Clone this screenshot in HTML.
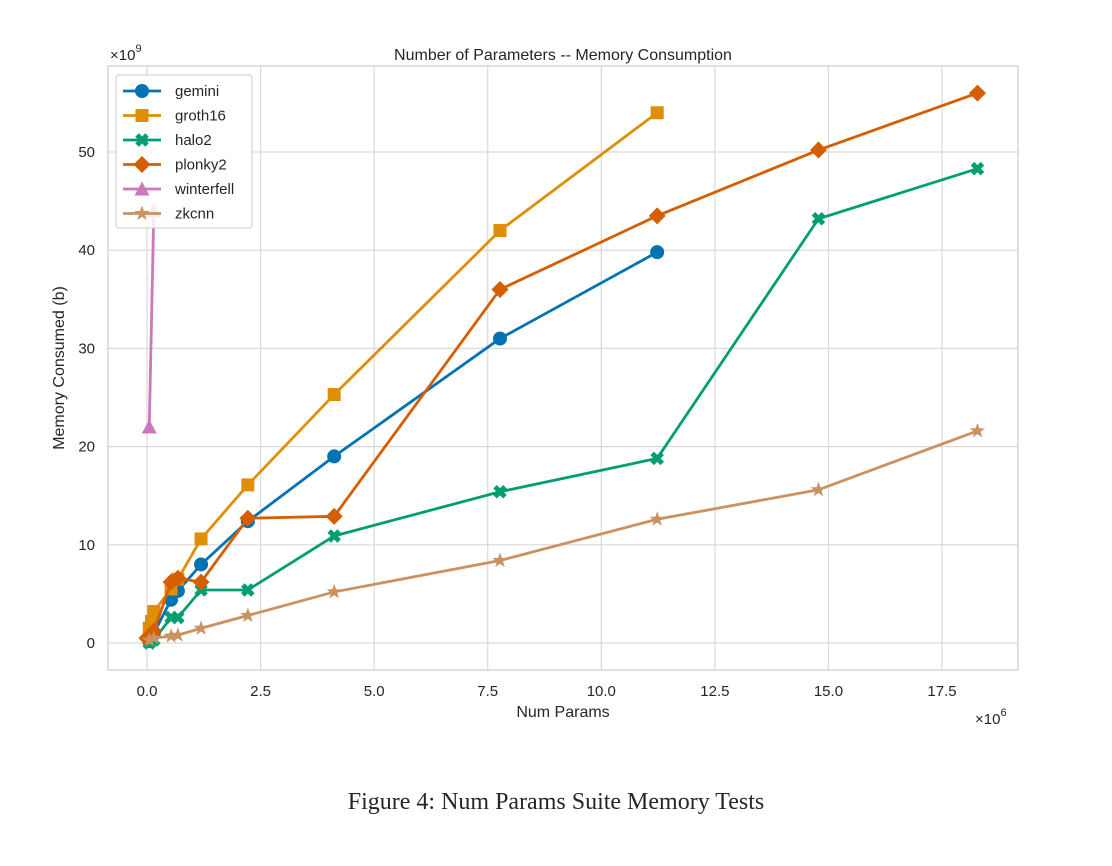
<!DOCTYPE html>
<html><head><meta charset="utf-8"><style>
body{margin:0;background:#fff;}
svg text{font-family:"Liberation Sans",sans-serif;fill:#262626;}
</style></head><body>
<svg width="1112" height="861" xmlns="http://www.w3.org/2000/svg">
<g id="grid"></g>
<rect x="108" y="66" width="910" height="604" fill="none" stroke="#cccccc" stroke-width="1.2"/>
<g id="series"></g>
<g id="ticks"></g>
<text x="563" y="60" text-anchor="middle" font-size="16">Number of Parameters -- Memory Consumption</text>
<text x="563" y="717" text-anchor="middle" font-size="16">Num Params</text>
<text transform="translate(64,368) rotate(-90)" text-anchor="middle" font-size="16">Memory Consumed (b)</text>
<text x="110" y="60" font-size="15">×10<tspan dy="-8" font-size="11">9</tspan></text>
<text x="975" y="724" font-size="15">×10<tspan dy="-8" font-size="11">6</tspan></text>
<g id="legend"></g>
<text x="556" y="809" text-anchor="middle" font-size="24" style="font-family:'Liberation Serif',serif">Figure 4: Num Params Suite Memory Tests</text>
</svg>
<script>
const xTicks=[0,2.5,5,7.5,10,12.5,15,17.5];
const xTickLabels=["0.0","2.5","5.0","7.5","10.0","12.5","15.0","17.5"];
const yTicks=[0,10,20,30,40,50];
const seriesNames=["gemini","groth16","halo2","plonky2","winterfell","zkcnn"];
const geminiX=[0.05,0.15,0.53,0.68,1.19,2.22,4.12,7.77,11.23];
const geminiY=[0.2,1.0,4.4,5.3,8.0,12.4,19.0,31.0,39.8];
const groth16X=[0.05,0.1,0.15,0.53,0.68,1.19,2.22,4.12,7.77,11.23];
const groth16Y=[1.5,2.2,3.2,5.5,6.5,10.6,16.1,25.3,42.0,54.0];
const halo2X=[0.05,0.15,0.53,0.68,1.19,2.22,4.12,7.77,11.23,14.78,18.28];
const halo2Y=[0.0,0.3,2.6,2.6,5.4,5.4,10.9,15.4,18.8,43.2,48.3];
const plonky2X=[0.0,0.15,0.53,0.68,1.19,2.22,4.12,7.77,11.23,14.78,18.28];
const plonky2Y=[0.5,1.2,6.2,6.6,6.2,12.7,12.9,36.0,43.5,50.2,56.0];
const winterfellX=[0.05,0.15];
const winterfellY=[22,44];
const zkcnnX=[0.05,0.15,0.53,0.68,1.19,2.22,4.12,7.77,11.23,14.78,18.28];
const zkcnnY=[0.3,0.5,0.7,0.8,1.5,2.8,5.2,8.4,12.6,15.6,21.6];

const NS="http://www.w3.org/2000/svg";
const sx=v=>147+v*45.43, sy=v=>643-v*9.82;
function mk(tag,attrs,parent){const e=document.createElementNS(NS,tag);for(const k in attrs)e.setAttribute(k,attrs[k]);parent.appendChild(e);return e;}
const grid=document.getElementById('grid'),ticks=document.getElementById('ticks');
xTicks.forEach((t,i)=>{
 const l=mk('line',{x1:sx(t),x2:sx(t),y1:66,y2:670,stroke:'#d9d9d9','stroke-width':1.2},grid);
 
 
 const tx=mk('text',{x:sx(t),y:696,'text-anchor':'middle','font-size':15},ticks);tx.textContent=xTickLabels[i];
 
 
});
yTicks.forEach(t=>{
 const l=mk('line',{x1:108,x2:1018,y1:sy(t),y2:sy(t),stroke:'#d9d9d9','stroke-width':1.2},grid);
 
 
 const tx=mk('text',{x:95,y:sy(t)+5,'text-anchor':'end','font-size':15},ticks);tx.textContent=String(t);
 
 
});
const colors=["#0173b2","#de8f05","#029e73","#d55e00","#cc78bc","#ca9161"];
const markers=["o","s","x","d","^","*"];
const data=[[geminiX,geminiY],[groth16X,groth16Y],[halo2X,halo2Y],[plonky2X,plonky2Y],[winterfellX,winterfellY],[zkcnnX,zkcnnY]];
function marker(type,x,y,c,g){
 let e;
 if(type==='o')e=mk('circle',{cx:x,cy:y,r:7,fill:c},g);
 else if(type==='s')e=mk('rect',{x:x-6.5,y:y-6.5,width:13,height:13,fill:c},g);
 else if(type==='d')e=mk('polygon',{points:`${x},${y-8.5} ${x+8.5},${y} ${x},${y+8.5} ${x-8.5},${y}`,fill:c},g);
 else if(type==='^')e=mk('polygon',{points:`${x},${y-7.5} ${x+7.5},${y+6.5} ${x-7.5},${y+6.5}`,fill:c},g);
 else if(type==='x')e=mk('path',{d:`M${x-5},${y-5}L${x+5},${y+5}M${x+5},${y-5}L${x-5},${y+5}`,stroke:c,'stroke-width':5},g);
 else {let p=[];for(let k=0;k<10;k++){const r=k%2?3.2:8,a=-Math.PI/2+k*Math.PI/5;p.push((x+r*Math.cos(a)).toFixed(1)+','+(y+r*Math.sin(a)).toFixed(1));}e=mk('polygon',{points:p.join(' '),fill:c},g);}
 return e;
}
const sg=document.getElementById('series');
data.forEach((d,i)=>{
 const g=mk('g',{},sg);
 
 
 const pl=mk('polyline',{points:d[0].map((v,j)=>sx(v)+','+sy(d[1][j])).join(' '),fill:'none',stroke:colors[i],'stroke-width':2.8},g);
 
 
 d[0].forEach((v,j)=>{const m=marker(markers[i],sx(v),sy(d[1][j]),colors[i],g);
  
  });
});
const lg=document.getElementById('legend');
const box=mk('rect',{x:116,y:75,width:136,height:153,rx:3,fill:'#fff','fill-opacity':0.85,stroke:'#cccccc'},lg);


seriesNames.forEach((n,i)=>{
 const y=91+i*24.5;
 const g=mk('g',{},lg);
 
 
 mk('line',{x1:123,x2:161,y1:y,y2:y,stroke:colors[i],'stroke-width':2.8},g);
 marker(markers[i],142,y,colors[i],g);
 const t=mk('text',{x:175,y:y+5,'font-size':15},g);t.textContent=n;
});
</script>
</body></html>
